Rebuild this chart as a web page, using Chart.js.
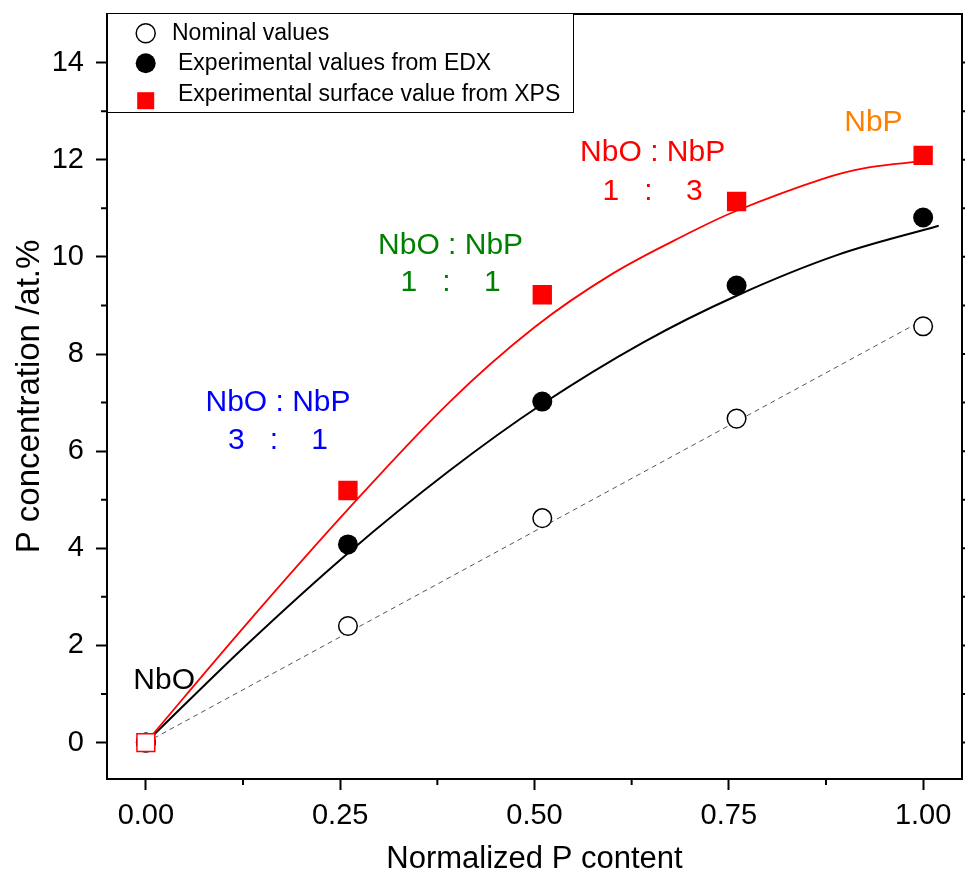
<!DOCTYPE html>
<html>
<head>
<meta charset="utf-8">
<script src="https://cdn.jsdelivr.net/npm/chart.js@4.4.1/dist/chart.umd.min.js"></script>
<style>
  body { margin: 0; background: #fff; }
  #wrap { width: 965px; height: 878px; }
</style>
</head>
<body>
<div id="wrap"><canvas id="pChart" width="965" height="878"></canvas></div>
<script>
// measured points (normalized P content)
const pointX = [0, 0.26, 0.51, 0.76, 1.0];
const nominalY = [0, 2.40, 4.62, 6.67, 8.57];
const edxY = [0, 4.08, 7.02, 9.41, 10.81];
const xpsY = [0, 5.19, 9.22, 11.14, 12.09];

// fitted curves
const xpsFitX = [0, 0.13, 0.26, 0.39, 0.5, 0.6, 0.7, 0.76, 0.87, 0.93, 1.0];
const xpsFitY = [0, 2.45, 4.8, 7.0, 8.55, 9.65, 10.5, 10.95, 11.6, 11.84, 11.97];
const edxFitX = [0, 0.13, 0.26, 0.39, 0.51, 0.64, 0.76, 0.89, 1.02];
const edxFitY = [0, 2.02, 3.9, 5.59, 6.97, 8.24, 9.2, 10.04, 10.64];
const nominalFitX = [0, 1.0];
const nominalFitY = [0, 8.7];

const xTicks = [0, 0.25, 0.5, 0.75, 1.0];
const xMinor = [0.125, 0.375, 0.625, 0.875];
const yTicks = [0, 2, 4, 6, 8, 10, 12, 14];
const yMinor = [1, 3, 5, 7, 9, 11, 13];

const legendLabels = ["Nominal values", "Experimental values from EDX", "Experimental surface value from XPS"];

const notes = [
    { text: "NbO", x: 0.0235, y: 1.28, color: "#000000" },
    { text: "NbO : NbP", x: 0.170, y: 6.99, color: "#0000ff" },
    { text: "3   :    1", x: 0.170, y: 6.21, color: "#0000ff" },
    { text: "NbO : NbP", x: 0.392, y: 10.23, color: "#008000" },
    { text: "1   :    1", x: 0.392, y: 9.46, color: "#008000" },
    { text: "NbO : NbP", x: 0.652, y: 12.15, color: "#ff0000" },
    { text: "1   :    3", x: 0.652, y: 11.35, color: "#ff0000" },
    { text: "NbP", x: 0.936, y: 12.77, color: "#ff8000" }
];

const RED = "#ff0000";
const FONT = '"Liberation Sans", Arial, sans-serif';
Chart.defaults.font.family = FONT;
Chart.defaults.color = "#000";

const toXY = (xs, ys) => xs.map((x, i) => ({ x: x, y: ys[i] }));

const extras = {
    id: "extras",
    afterDraw(chart) {
        const { ctx, chartArea: a, scales: { x, y } } = chart;
        ctx.save();
        ctx.strokeStyle = "#000";
        ctx.lineWidth = 2;

        // top and right frame
        ctx.beginPath();
        ctx.moveTo(a.left - 1, a.top);
        ctx.lineTo(a.right, a.top);
        ctx.lineTo(a.right, a.bottom + 1);
        ctx.stroke();

        // minor ticks + right side ticks
        ctx.beginPath();
        xMinor.forEach(v => {
            const px = x.getPixelForValue(v);
            ctx.moveTo(px, a.bottom);
            ctx.lineTo(px, a.bottom + 6);
        });
        yMinor.forEach(v => {
            const py = y.getPixelForValue(v);
            ctx.moveTo(a.left, py);
            ctx.lineTo(a.left - 6, py);
            ctx.moveTo(a.right, py);
            ctx.lineTo(a.right + 6, py);
        });
        yTicks.forEach(v => {
            const py = y.getPixelForValue(v);
            ctx.moveTo(a.right, py);
            ctx.lineTo(a.right + 11, py);
        });
        ctx.stroke();

        // text notes
        ctx.font = "30px " + FONT;
        ctx.textAlign = "center";
        ctx.textBaseline = "middle";
        notes.forEach(n => {
            ctx.fillStyle = n.color;
            ctx.fillText(n.text, x.getPixelForValue(n.x), y.getPixelForValue(n.y));
        });

        // legend box
        const lx = a.left, ly = 13.5, lw = 466, lh = 99;
        ctx.fillStyle = "#fff";
        ctx.fillRect(lx, ly, lw, lh);
        ctx.lineWidth = 1;
        ctx.strokeStyle = "#000";
        ctx.strokeRect(lx + 0.5, ly, lw, lh);

        const mx = 145.7;
        ctx.lineWidth = 1.5;
        ctx.beginPath();
        ctx.arc(mx, 33.3, 9.5, 0, Math.PI * 2);
        ctx.fillStyle = "#fff";
        ctx.fill();
        ctx.stroke();

        ctx.beginPath();
        ctx.arc(mx, 63.3, 10, 0, Math.PI * 2);
        ctx.fillStyle = "#000";
        ctx.fill();

        ctx.fillStyle = RED;
        ctx.fillRect(mx - 8.5, 100.7 - 8.5, 17, 17);

        ctx.fillStyle = "#000";
        ctx.textAlign = "left";
        ctx.font = "23px " + FONT;
        ctx.fillText(legendLabels[0], 172, 33.3);
        ctx.fillText(legendLabels[1], 178, 63.3);
        ctx.fillText(legendLabels[2], 178, 94.3);

        ctx.restore();
    }
};

const canvas = document.getElementById("pChart");

new Chart(canvas, {
    type: "scatter",
    data: {
        datasets: [
            {
                label: legendLabels[2],
                data: toXY(pointX, xpsY),
                pointStyle: "rect",
                pointRadius: 12.6,
                pointBackgroundColor: pointX.map((v, i) => i === 0 ? "#fff" : RED),
                pointBorderColor: RED,
                pointBorderWidth: 1.5,
                order: 0
            },
            {
                label: legendLabels[1],
                data: toXY(pointX, edxY),
                pointStyle: "circle",
                pointRadius: 10,
                pointBackgroundColor: "#000",
                pointBorderColor: "#000",
                pointBorderWidth: 0,
                order: 1
            },
            {
                label: legendLabels[0],
                data: toXY(pointX, nominalY),
                pointStyle: "circle",
                pointRadius: 9.3,
                pointBackgroundColor: "#fff",
                pointBorderColor: "#000",
                pointBorderWidth: 1.5,
                order: 2
            },
            {
                label: "XPS fit",
                data: toXY(xpsFitX, xpsFitY),
                showLine: true,
                pointRadius: 0,
                borderColor: RED,
                borderWidth: 1.8,
                tension: 0.35,
                order: 3
            },
            {
                label: "EDX fit",
                data: toXY(edxFitX, edxFitY),
                showLine: true,
                pointRadius: 0,
                borderColor: "#000",
                borderWidth: 2,
                tension: 0.35,
                order: 4
            },
            {
                label: "Nominal fit",
                data: toXY(nominalFitX, nominalFitY),
                showLine: true,
                pointRadius: 0,
                borderColor: "#555",
                borderWidth: 1,
                borderDash: [5, 4],
                order: 5
            }
        ]
    },
    options: {
        responsive: false,
        animation: false,
        events: [],
        layout: { autoPadding: false, padding: { left: 0, top: 14, right: 3, bottom: 0 } },
        plugins: {
            legend: { display: false },
            tooltip: { enabled: false }
        },
        scales: {
            x: {
                type: "linear",
                min: -0.05,
                max: 1.05,
                afterBuildTicks: s => { s.ticks = xTicks.map(v => ({ value: v })); },
                afterFit: s => {
                    s.height = 99;
                    s.paddingLeft = 0;
                    s.paddingRight = 0;
                },
                border: { color: "#000", width: 2 },
                grid: { drawOnChartArea: false, tickLength: 11, tickWidth: 2, tickColor: "#000" },
                ticks: {
                    color: "#000",
                    font: { size: 29 },
                    padding: 9,
                    maxRotation: 0,
                    callback: v => Number(v).toFixed(2)
                },
                title: {
                    display: true,
                    text: "Normalized P content",
                    color: "#000",
                    font: { size: 31 },
                    padding: { top: 0, bottom: 0 }
                }
            },
            y: {
                type: "linear",
                min: -0.75,
                max: 15,
                afterBuildTicks: s => { s.ticks = yTicks.map(v => ({ value: v })); },
                afterFit: s => {
                    s.width = 107;
                    s.paddingTop = 0;
                    s.paddingBottom = 0;
                },
                border: { color: "#000", width: 2 },
                grid: { drawOnChartArea: false, tickLength: 11, tickWidth: 2, tickColor: "#000" },
                ticks: {
                    color: "#000",
                    font: { size: 29 },
                    padding: 12,
                    callback: v => String(v)
                },
                title: {
                    display: true,
                    text: "P concentration /at.%",
                    color: "#000",
                    font: { size: 33 },
                    padding: { top: 10, bottom: 0 }
                }
            }
        }
    },
    plugins: [extras]
});
</script>
</body>
</html>
